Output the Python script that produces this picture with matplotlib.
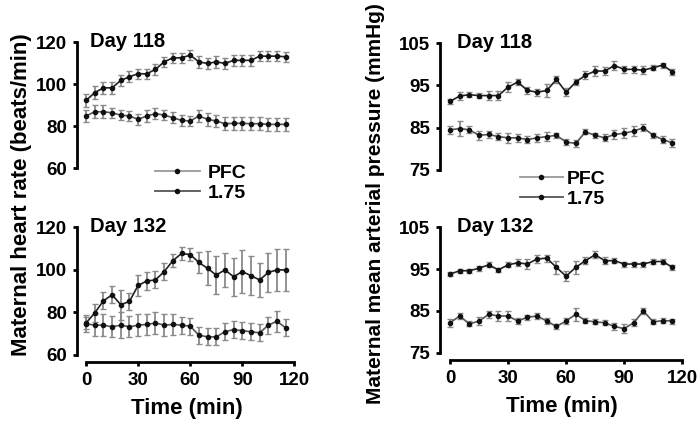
import matplotlib.pyplot as plt

plt.rcParams['font.family'] = ['Liberation Sans', 'DejaVu Sans']
plt.rcParams['font.weight'] = 'bold'

# time points (min)
time = [0, 5, 10, 15, 20, 25, 30, 35, 40, 45, 50, 55,
        60, 65, 70, 75, 80, 85, 90, 95, 100, 105, 110, 115]

# heart rate, day 118
hr118_a = [92.2, 95.9, 98.2, 98.2, 101.7, 103.5, 104.9, 104.9, 107.0, 110.6, 112.5, 112.5,
           113.8, 110.6, 109.8, 110.6, 109.8, 111.3, 111.3, 111.3, 113.3, 113.3, 113.3, 113.0]
hr118_a_err = [3, 3, 3, 3, 2.5, 2.5, 2.5, 2.5, 2.5, 2.5, 2.5, 2.5,
               2.5, 3, 2.5, 3, 2.5, 2.5, 2.5, 2.5, 2.5, 2.5, 2.5, 2.5]
hr118_b = [84.8, 86.8, 86.8, 86.3, 85.2, 84.8, 83.2, 84.8, 85.9, 85.2, 84.0, 82.7,
           82.4, 84.8, 83.2, 82.4, 81.1, 81.3, 81.3, 81.1, 81.1, 80.8, 80.8, 80.8]
hr118_b_err = [3, 3, 3, 2.5, 2.5, 2.5, 2.5, 3, 2.5, 2.5, 2.5, 2.5,
               2.5, 3, 3, 3, 3, 3, 3, 3, 3, 3, 3, 3]

# heart rate, day 132
hr132_a = [75.0, 79.7, 85.4, 88.2, 83.6, 85.1, 92.6, 94.7, 95.2, 99.1, 104.2, 107.6,
           107.1, 103.4, 100.6, 97.5, 99.9, 96.7, 99.1, 97.2, 95.2, 98.7, 99.9, 99.9]
hr132_a_err = [3, 4, 4, 4, 7, 4, 5, 4, 4, 4, 3, 3,
               3, 5, 8, 9, 8, 9, 10, 9, 8, 9, 10, 10]
hr132_b = [74.6, 74.0, 74.0, 73.2, 74.0, 73.2, 74.0, 74.3, 75.0, 74.0, 74.3, 74.0,
           73.5, 69.3, 68.5, 68.5, 70.9, 71.9, 71.4, 70.9, 70.4, 74.0, 75.8, 72.7]
hr132_b_err = [4, 5, 5, 5, 6, 5, 5, 5, 5, 5, 5, 4,
               4, 4, 4, 4, 4, 4, 4, 4, 4, 4, 5, 4]

# mean arterial pressure, day 118
map118_a = [91.2, 92.5, 92.8, 92.6, 92.6, 92.6, 94.6, 95.8, 93.8, 93.4, 93.8, 96.4,
            93.4, 95.8, 97.4, 98.4, 98.4, 99.7, 98.8, 98.8, 98.6, 99.2, 99.8, 98.2]
map118_a_err = [0.6, 1.0, 0.6, 0.6, 1.0, 1.0, 1.2, 0.8, 0.8, 0.8, 1.5, 0.8,
                1.0, 0.8, 1.0, 1.2, 1.0, 1.0, 0.8, 0.8, 1.0, 0.6, 0.6, 0.8]
map118_b = [84.5, 84.8, 84.5, 83.2, 83.4, 82.9, 82.6, 82.6, 82.2, 82.6, 82.9, 83.2,
            81.6, 81.3, 84.0, 83.2, 82.6, 83.4, 83.7, 84.2, 85.0, 83.2, 82.2, 81.4]
map118_b_err = [1.0, 1.8, 0.8, 1.0, 0.8, 0.8, 1.2, 1.0, 0.8, 1.0, 1.0, 0.6,
                0.8, 0.8, 0.6, 0.6, 0.8, 1.0, 1.2, 1.2, 0.8, 0.6, 0.8, 1.0]

# mean arterial pressure, day 132
map132_a = [93.8, 94.6, 94.6, 95.2, 96.0, 94.8, 96.0, 96.5, 96.2, 97.4, 97.6, 95.4,
            93.3, 95.4, 97.0, 98.4, 97.0, 97.0, 96.2, 96.2, 96.2, 96.8, 96.8, 95.4]
map132_a_err = [0.5, 0.5, 0.5, 0.6, 0.6, 0.5, 0.6, 0.8, 1.2, 1.0, 0.8, 1.5,
                1.2, 1.5, 0.8, 0.8, 0.8, 0.6, 0.6, 0.6, 0.6, 0.5, 0.5, 0.6]
map132_b = [82.2, 83.8, 81.9, 82.6, 84.2, 83.8, 83.8, 82.6, 83.5, 83.8, 82.6, 81.3,
            82.6, 84.2, 82.7, 82.4, 82.2, 81.3, 80.8, 82.2, 85.0, 82.4, 82.7, 82.6]
map132_b_err = [1.0, 0.8, 0.6, 1.0, 0.8, 1.2, 1.2, 0.8, 0.6, 0.6, 0.8, 0.6,
                0.8, 1.5, 0.6, 0.6, 0.6, 0.8, 1.0, 0.8, 0.8, 0.6, 0.6, 0.6]

labels = ['PFC', '1.75']

fig = plt.figure(figsize=(7, 4.25), dpi=100)

# axes rectangles in figure fractions
ax_hr1 = fig.add_axes([0.110, 0.6047, 0.313, 0.3012])
ax_hr2 = fig.add_axes([0.110, 0.1482, 0.313, 0.3226])
ax_mp1 = fig.add_axes([0.6286, 0.600, 0.3486, 0.3035])
ax_mp2 = fig.add_axes([0.6286, 0.1529, 0.3486, 0.3176])


def draw(ax, ya, ea, yb, eb, title, ylim, yticks, show_x, tx):
    for y, e, lc in [(yb, eb, '#555555'), (ya, ea, '#222222')]:
        ax.errorbar(time, y, yerr=e, color=lc, ecolor='#8a8a8a', elinewidth=1.3,
                    capsize=2, capthick=1, lw=1.2, marker='o', ms=3,
                    mfc='#111111', mec='#111111')
    ax.set_ylim(*ylim)
    ax.set_yticks(yticks)
    ax.spines['top'].set_visible(False)
    ax.spines['right'].set_visible(False)
    ax.spines['left'].set_linewidth(2)
    ax.spines['left'].set_bounds(yticks[0], yticks[-1])
    ax.tick_params(axis='y', width=2, length=3, labelsize=13.5, pad=4)
    ax.text(tx, 0.99, title, transform=ax.transAxes, fontsize=14.5,
            fontweight='bold', va='center', ha='left')
    ax.set_xlim(-5.2, 121)
    if show_x:
        ax.spines['bottom'].set_linewidth(2)
        ax.spines['bottom'].set_bounds(0, 120)
        ax.set_xticks([0, 30, 60, 90, 120])
        ax.tick_params(axis='x', width=2, length=3, labelsize=13.5, pad=4)
        ax.set_xlabel('Time (min)', fontsize=16, fontweight='bold', labelpad=7)
    else:
        ax.spines['bottom'].set_visible(False)
        ax.set_xticks([])


draw(ax_hr1, hr118_a, hr118_a_err, hr118_b, hr118_b_err, 'Day 118',
     (60, 121), [60, 80, 100, 120], False, 0.06)
draw(ax_hr2, hr132_a, hr132_a_err, hr132_b, hr132_b_err, 'Day 132',
     (56.7, 121), [60, 80, 100, 120], True, 0.06)
draw(ax_mp1, map118_a, map118_a_err, map118_b, map118_b_err, 'Day 118',
     (75, 105.5), [75, 85, 95, 105], False, 0.07)
draw(ax_mp2, map132_a, map132_a_err, map132_b, map132_b_err, 'Day 132',
     (73.3, 105.5), [75, 85, 95, 105], True, 0.07)

# legends
for ax, pos, hl, tp in [(ax_hr1, (155 / 700, 1 - 164 / 425), 2.3, 0.4),
                        (ax_mp1, (520 / 700, 1 - 170 / 425), 2.2, 0.2)]:
    h1 = plt.Line2D([], [], color='#999999', lw=1.3, marker='o', ms=3, mfc='#111111', mec='#111111')
    h2 = plt.Line2D([], [], color='#555555', lw=1.3, marker='o', ms=3, mfc='#111111', mec='#111111')
    ax.legend([h1, h2], labels, loc='upper left', bbox_to_anchor=pos,
              bbox_transform=fig.transFigure, frameon=False, fontsize=14,
              handlelength=hl, handletextpad=tp, labelspacing=0.15,
              borderpad=0, borderaxespad=0)

fig.text(0.031, 0.542, 'Maternal heart rate (beats/min)', rotation=90,
         fontsize=16, fontweight='bold', ha='center', va='center')
fig.text(0.537, 0.522, 'Maternal mean arterial pressure (mmHg)', rotation=90,
         fontsize=15, fontweight='bold', ha='center', va='center')

fig.savefig('out.png', dpi=100)
